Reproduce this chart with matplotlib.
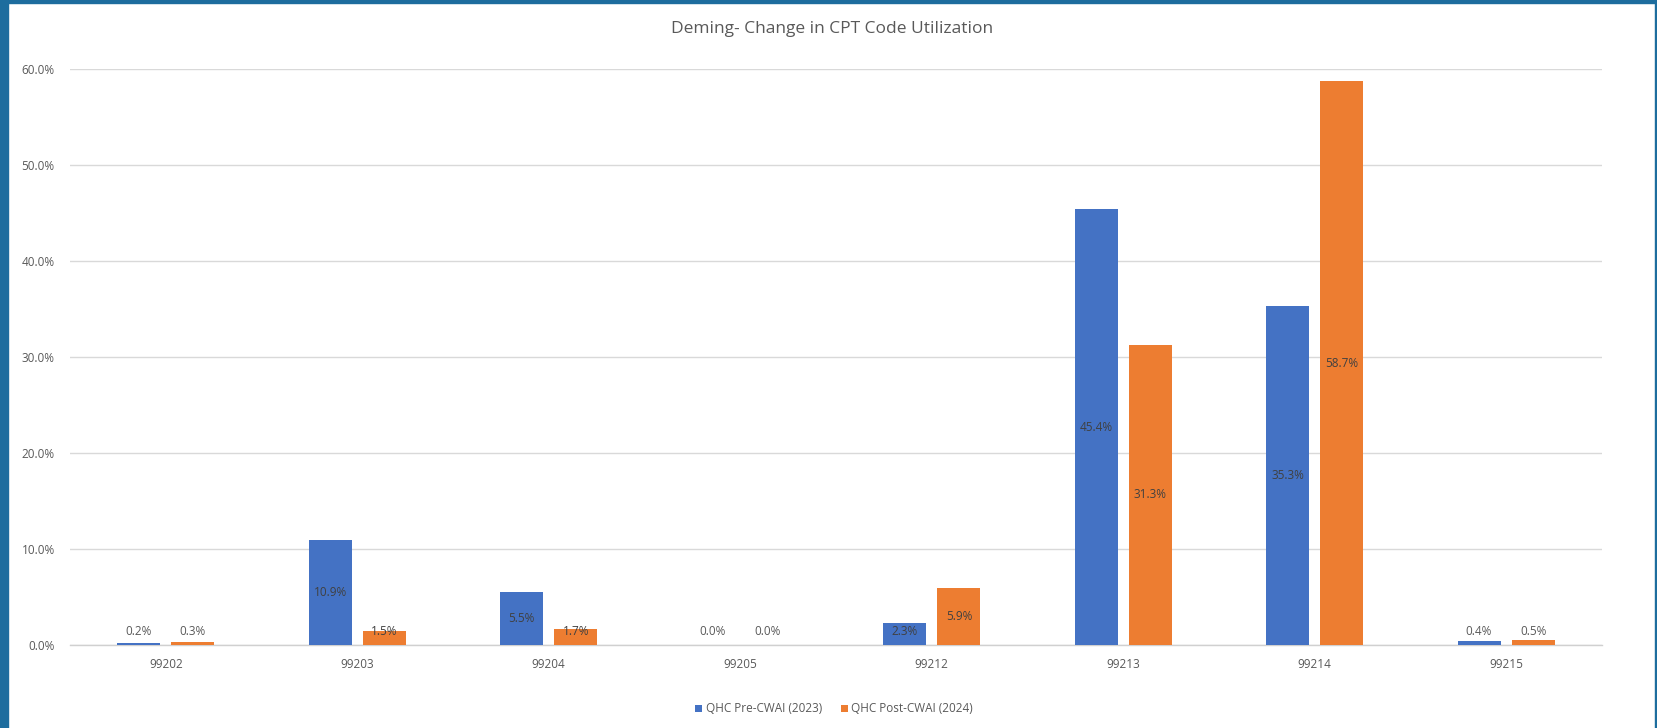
import numpy as np
import matplotlib.pyplot as plt
from matplotlib.patches import Rectangle

plt.rcParams['font.family'] = ['Open Sans', 'DejaVu Sans']

codes = ['99202', '99203', '99204', '99205', '99212', '99213', '99214', '99215']
pre_2023 = [0.2, 10.9, 5.5, 0.0, 2.3, 45.4, 35.3, 0.4]
post_2024 = [0.3, 1.5, 1.7, 0.0, 5.9, 31.3, 58.7, 0.5]
series_names = ['QHC Pre-CWAI (2023)', 'QHC Post-CWAI (2024)']
yticks = [0, 10, 20, 30, 40, 50, 60]

W, H = 1657, 728
fig = plt.figure(figsize=(W / 100, H / 100), dpi=100)
fig.patch.set_facecolor('white')

# blue frame on left, top and right edges
frame = '#1d6d9e'
fig.patches.append(Rectangle((0, 0), 8 / W, 1, transform=fig.transFigure, color=frame, zorder=0))
fig.patches.append(Rectangle((0, 1 - 3 / H), 1, 3 / H, transform=fig.transFigure, color=frame, zorder=0))
fig.patches.append(Rectangle((1 - 2 / W, 0), 2 / W, 1, transform=fig.transFigure, color=frame, zorder=0))

ax = fig.add_axes([70 / W, (H - 645) / H, (1602 - 70) / W, (645 - 69) / H])

fs = 8.5
x = np.arange(len(codes))
bw = 0.225
off = 0.142
b1 = ax.bar(x - off, pre_2023, bw, color='#4472C4', label=series_names[0], zorder=3)
b2 = ax.bar(x + off, post_2024, bw, color='#ED7D31', label=series_names[1], zorder=3)

# value labels centred in the bar, pushed up when the bar is too short
for bars, vals in ((b1, pre_2023), (b2, post_2024)):
    for rect, v in zip(bars, vals):
        ypos = max(v / 2, 1.45)
        col = '#404040' if v >= 1.4 else '#595959'
        ax.text(rect.get_x() + rect.get_width() / 2, ypos, f'{v:.1f}%',
                ha='center', va='center', fontsize=fs, color=col, zorder=4)

ax.set_xlim(-0.5, len(codes) - 0.5)
ax.set_ylim(0, 60)
ax.set_yticks(yticks)
ax.set_yticklabels([f'{t:.1f}%' for t in yticks])
ax.set_xticks(x)
ax.set_xticklabels(codes)
ax.tick_params(axis='both', length=0, labelsize=fs, labelcolor='#595959')
ax.tick_params(axis='y', pad=11)
ax.tick_params(axis='x', pad=9)
ax.grid(axis='y', color='#d9d9d9', linewidth=1.0, zorder=0)
for s in ['top', 'right', 'left']:
    ax.spines[s].set_visible(False)
ax.spines['bottom'].set_color('#d0d0d0')
ax.spines['bottom'].set_linewidth(1.0)
ax.set_axisbelow(True)

fig.text(832 / W, 1 - 29 / H, 'Deming- Change in CPT Code Utilization',
         ha='center', va='center', fontsize=12.5, color='#595959')

fig.legend(handles=[b1, b2], labels=series_names, loc='center',
           bbox_to_anchor=(834 / W, 1 - 709 / H), ncol=2, frameon=False,
           fontsize=fs, labelcolor='#595959', handlelength=0.6, handleheight=0.6,
           handletextpad=0.3, columnspacing=1.6)

fig.savefig('out.png', dpi=100)
